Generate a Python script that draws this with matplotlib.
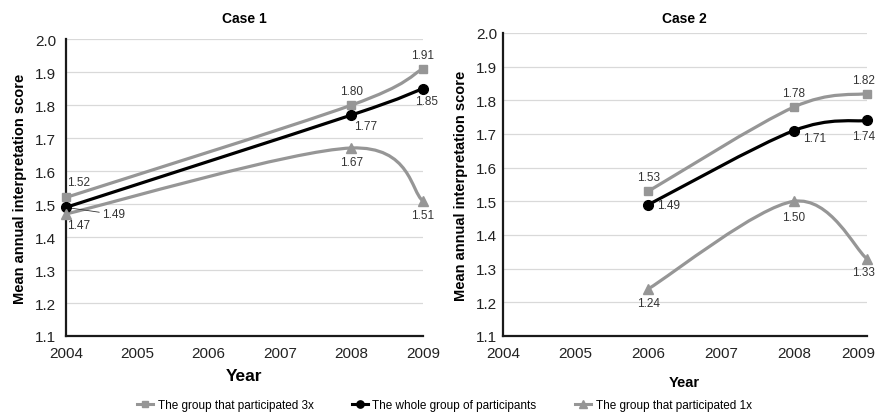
import matplotlib
matplotlib.use("Agg")
import matplotlib.pyplot as plt
import numpy as np
from matplotlib.path import Path
from matplotlib.patches import PathPatch
from matplotlib.lines import Line2D
import matplotlib.transforms as mtransforms

plt.rcParams['font.family'] = ['Liberation Sans', 'DejaVu Sans']

# ---- data ----
case1_years = [2004, 2008, 2009]
case1_3x = [1.52, 1.80, 1.91]
case1_whole = [1.49, 1.77, 1.85]
case1_1x = [1.47, 1.67, 1.51]

case2_years = [2006, 2008, 2009]
case2_3x = [1.53, 1.78, 1.82]
case2_whole = [1.49, 1.71, 1.74]
case2_1x = [1.24, 1.50, 1.33]

series_names = ["The group that participated 3x",
                "The whole group of participants",
                "The group that participated 1x"]
titles = ["Case 1", "Case 2"]
year_ticks = [2004, 2005, 2006, 2007, 2008, 2009]
score_ticks = [1.1, 1.2, 1.3, 1.4, 1.5, 1.6, 1.7, 1.8, 1.9, 2.0]

GREY = '#969696'
BLACK = '#000000'


def smooth_path(ax, xs, ys):
    """Excel-like smoothed line (Catmull-Rom Bezier) in normalized axis space."""
    x0, x1 = ax.get_xlim()
    y0, y1 = ax.get_ylim()
    pts = np.array([[(x - x0) / (x1 - x0), (y - y0) / (y1 - y0) * 0.85]
                    for x, y in zip(xs, ys)])
    verts = [pts[0]]
    codes = [Path.MOVETO]
    n = len(pts)
    for i in range(n - 1):
        p0 = pts[i - 1] if i > 0 else pts[i]
        p1 = pts[i]
        p2 = pts[i + 1]
        p3 = pts[i + 2] if i + 2 < n else pts[i + 1]
        c1 = p1 + (p2 - p0) / 6.0
        c2 = p2 - (p3 - p1) / 6.0
        verts += [c1, c2, p2]
        codes += [Path.CURVE4] * 3
    verts = np.array(verts)
    verts[:, 0] = x0 + verts[:, 0] * (x1 - x0)
    verts[:, 1] = y0 + verts[:, 1] / 0.85 * (y1 - y0)
    return Path(verts, codes)


fig = plt.figure(figsize=(8.79, 4.14), dpi=100)
ax1 = fig.add_axes([0.075, 0.186, 0.406, 0.717])
ax2 = fig.add_axes([0.572, 0.186, 0.414, 0.732])

cases = [
    (ax1, case1_years, [case1_3x, case1_whole, case1_1x]),
    (ax2, case2_years, [case2_3x, case2_whole, case2_1x]),
]
styles = [(GREY, 's', 6), (BLACK, 'o', 7), (GREY, '^', 7)]

for idx, (ax, yrs, series) in enumerate(cases):
    ax.set_xlim(2004, 2009)
    ax.set_ylim(1.1, 2.0)
    ax.set_yticks(score_ticks)
    ax.set_yticklabels([f"{v:.1f}" for v in score_ticks])
    ax.set_xticks(year_ticks)
    ax.set_xticklabels([str(y) for y in year_ticks])
    ax.grid(axis='y', color='#d9d9d9', linewidth=0.9)
    ax.set_axisbelow(True)
    for s in ['top', 'right']:
        ax.spines[s].set_visible(False)
    for s in ['left', 'bottom']:
        ax.spines[s].set_color('#1a1a1a')
        ax.spines[s].set_linewidth(1.6)
    ax.tick_params(length=0, labelsize=11, colors='#222222')
    ax.tick_params(axis='x', pad=7)
    ax.set_ylabel("Mean annual interpretation score", fontsize=10.5,
                  fontweight='bold', labelpad=6)
    for vals, (col, mk, ms) in zip(series, styles):
        p = smooth_path(ax, yrs, vals)
        ax.add_patch(PathPatch(p, facecolor='none', edgecolor=col,
                               linewidth=2.3, zorder=3, clip_on=False,
                               capstyle='round'))
        ax.plot(yrs, vals, linestyle='none', marker=mk, color=col,
                markersize=ms, zorder=4, clip_on=False)

ax1.tick_params(axis='y', pad=7)
ax2.tick_params(axis='y', pad=4)
ax1.set_title(titles[0], fontsize=10, fontweight='bold', pad=12)
ax2.set_title(titles[1], fontsize=10, fontweight='bold', pad=8)
ax1.set_xlabel("Year", fontsize=12.5, fontweight='bold', labelpad=6)
ax2.set_xlabel("Year", fontsize=10.5, fontweight='bold', labelpad=11)

# shift last year label of right panel slightly left to stay inside figure
last = ax2.get_xticklabels()[-1]
last.set_transform(last.get_transform() +
                   mtransforms.ScaledTranslation(-6 / 72, 0, fig.dpi_scale_trans))


def lab(ax, x, y, dx, dy, ha='center', va='center'):
    ax.annotate(f"{y:.2f}", (x, y), xytext=(dx, dy), textcoords='offset points',
                ha=ha, va=va, fontsize=8.5, color='#333333', zorder=5)


# Case 1 labels
lab(ax1, case1_years[0], case1_3x[0], 1, 11, ha='left')
ax1.annotate(f"{case1_whole[0]:.2f}", (case1_years[0], case1_whole[0]),
             xytext=(26, -5), textcoords='offset points', ha='left', va='center',
             fontsize=8.5, color='#333333',
             arrowprops=dict(arrowstyle='-', color='#333333', lw=0.6,
                             shrinkA=0, shrinkB=2))
lab(ax1, case1_years[0], case1_1x[0], 1, -8, ha='left')
lab(ax1, case1_years[1], case1_3x[1], 0, 10)
lab(ax1, case1_years[1], case1_whole[1], 10, -8)
lab(ax1, case1_years[1], case1_1x[1], 0, -10)
lab(ax1, case1_years[2], case1_3x[2], 0, 10)
lab(ax1, case1_years[2], case1_whole[2], 3, -9)
lab(ax1, case1_years[2], case1_1x[2], 0, -10)

# Case 2 labels
lab(ax2, case2_years[0], case2_3x[0], 0, 10)
lab(ax2, case2_years[0], case2_whole[0], 6, 0, ha='left')
lab(ax2, case2_years[0], case2_1x[0], 0, -10)
lab(ax2, case2_years[1], case2_3x[1], 0, 10)
lab(ax2, case2_years[1], case2_whole[1], 15, -5)
lab(ax2, case2_years[1], case2_1x[1], 0, -11)
lab(ax2, case2_years[2], case2_3x[2], -2, 10)
lab(ax2, case2_years[2], case2_whole[2], -2, -11)
lab(ax2, case2_years[2], case2_1x[2], -2, -10)

handles = [Line2D([0], [0], color=c, marker=m, markersize=ms * 0.75,
                  linewidth=2.2) for c, m, ms in styles]
fig.legend(handles, series_names, loc='center', ncol=3,
           bbox_to_anchor=(0.5 + 5 / 879, 1 - 406 / 414), frameon=False,
           fontsize=8.5, handlelength=1.3, handletextpad=0.4,
           columnspacing=3.3)

fig.savefig("out.png", dpi=100)
